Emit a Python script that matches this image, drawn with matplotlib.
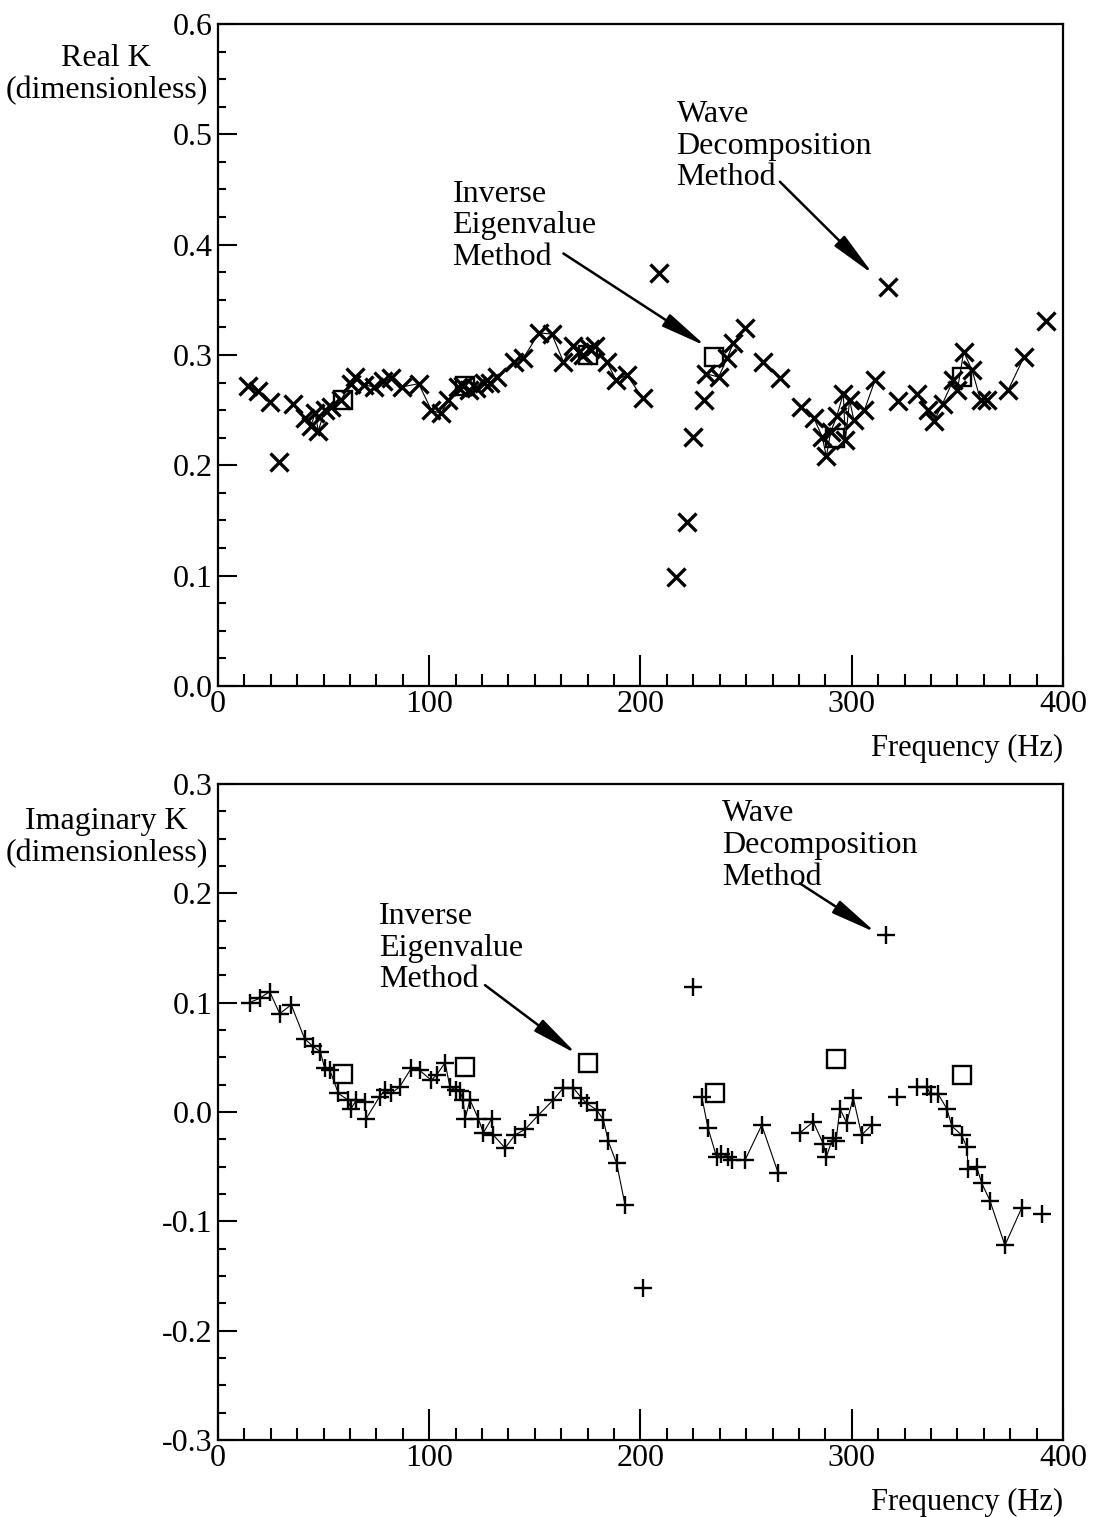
#!/usr/bin/env python3
"""Real and imaginary K versus frequency: wave decomposition vs inverse eigenvalue."""

import numpy as np
import matplotlib

matplotlib.use("Agg")
import matplotlib.pyplot as plt
from matplotlib.ticker import MultipleLocator

plt.rcParams["font.family"] = ["Liberation Serif", "DejaVu Serif"]
plt.rcParams["axes.unicode_minus"] = False

# --- Real K, wave decomposition (traced points) ---
real_wd_freq = [14, 19, 24.5, 35.5, 41, 44, 46, 47.5, 50.5, 53.5, 58, 63, 65, 69, 74,
                78, 82, 87, 95, 101, 105.5, 109, 113.5, 116, 119, 122, 126, 129, 132,
                140, 144.5, 152, 158, 163.5, 168, 171, 173, 176, 178.5, 184, 188.5,
                193.5, 201,
                231, 237, 241, 244, 249.5, 258, 266, 276, 282, 286, 288, 290, 293,
                296, 297, 299, 301, 306, 311, 322, 331, 336, 339, 343, 348, 350, 353,
                357, 361, 364, 374, 381.5, 392]
real_wd_k = [0.272, 0.267, 0.257, 0.256, 0.243, 0.236, 0.247, 0.231, 0.250, 0.253,
             0.259, 0.274, 0.280, 0.273, 0.271, 0.276, 0.279, 0.271, 0.274, 0.250,
             0.247, 0.259, 0.271, 0.272, 0.268, 0.270, 0.275, 0.275, 0.280, 0.294,
             0.297, 0.320, 0.319, 0.294, 0.308, 0.303, 0.300, 0.305, 0.308, 0.294,
             0.277, 0.282, 0.261,
             0.283, 0.280, 0.297, 0.311, 0.324, 0.294, 0.279, 0.253, 0.243, 0.226,
             0.208, 0.230, 0.245, 0.265, 0.223, 0.259, 0.241, 0.250, 0.277, 0.258,
             0.265, 0.250, 0.240, 0.256, 0.277, 0.268, 0.303, 0.286, 0.259, 0.259,
             0.268, 0.298, 0.331]
# isolated wave decomposition points (not on the trace)
real_wd_iso_freq = [29, 209, 217, 222, 225, 230, 317]
real_wd_iso_k = [0.203, 0.374, 0.099, 0.149, 0.226, 0.259, 0.362]

# --- Real K, inverse eigenvalue ---
real_ie_freq = [59, 117, 175, 235, 292, 352]
real_ie_k = [0.259, 0.272, 0.300, 0.298, 0.225, 0.280]

# --- Imaginary K, wave decomposition ---
imag_wd_freq = [15, 19.7, 24.5, 29.2, 34.7, 41, 45, 48.5, 50.5, 53, 57, 61.5, 63,
                65.5, 69.5, 70.2, 76.5, 79, 82, 86, 91.5, 95.5, 101, 103.5, 107.5,
                109.8, 112.8, 114.6, 116, 117, 119.3, 123.2, 125.6, 129.6, 130.3,
                135.9, 140.6, 145.3, 151.6, 158.7, 163.5, 168.2, 172, 174.5, 179.2,
                182.4, 184.8, 188.7, 192.7,
                229, 232, 236, 238, 241.6, 243.2, 249.5, 257.4, 265.2, 275.5, 281.8,
                286.5, 288, 291, 292.5, 294.4, 297.6, 300.7, 304.7, 309.4, 321.3,
                330.7, 335.5, 337.3, 341, 345, 347.4, 352, 354.4, 355.2, 359.1,
                361.5, 365.4, 372.5, 380.4, 389.9]
imag_wd_k = [0.100, 0.104, 0.110, 0.090, 0.098, 0.067, 0.060, 0.055, 0.040, 0.038,
             0.017, 0.011, 0.003, 0.011, 0.009, -0.006, 0.014, 0.020, 0.017, 0.023,
             0.040, 0.038, 0.029, 0.034, 0.045, 0.023, 0.020, 0.019, 0.011, -0.006,
             0.011, -0.006, -0.019, -0.006, -0.021, -0.033, -0.021, -0.016, -0.003,
             0.011, 0.022, 0.022, 0.013, 0.008, 0.002, -0.007, -0.027, -0.047,
             -0.085,
             0.014, -0.015, -0.041, -0.038, -0.041, -0.044, -0.044, -0.012, -0.056,
             -0.019, -0.009, -0.029, -0.041, -0.024, -0.027, 0.003, -0.010, 0.013,
             -0.021, -0.012, 0.014, 0.023, 0.023, 0.016, 0.016, 0.003, -0.013,
             -0.021, -0.032, -0.052, -0.050, -0.065, -0.081, -0.122, -0.088, -0.093]
imag_wd_iso_freq = [201, 225, 316]
imag_wd_iso_k = [-0.161, 0.114, 0.162]

# --- Imaginary K, inverse eigenvalue ---
imag_ie_freq = [59, 117, 175.3, 235.3, 292.5, 352]
imag_ie_k = [0.035, 0.041, 0.045, 0.017, 0.048, 0.034]

FS_TICK = 23
FS_TEXT = 23
FS_XLABEL = 22
LS = 1.12
ARROW = dict(arrowstyle="-|>,head_length=1.4,head_width=0.22", color="black",
             lw=1.8, mutation_scale=20, shrinkA=0, shrinkB=0)


def trace_segments(freq, vals, max_gap=8):
    freq = np.asarray(freq, dtype=float)
    vals = np.asarray(vals, dtype=float)
    cuts = np.where(np.diff(freq) > max_gap)[0] + 1
    return zip(np.split(freq, cuts), np.split(vals, cuts))


def style_axes(ax, ylim):
    ax.set_xlim(0, 400)
    ax.set_ylim(*ylim)
    ax.xaxis.set_major_locator(MultipleLocator(100))
    ax.xaxis.set_minor_locator(MultipleLocator(12.5))
    ax.yaxis.set_major_locator(MultipleLocator(0.1))
    ax.yaxis.set_minor_locator(MultipleLocator(0.025))
    ax.yaxis.set_major_formatter(plt.FuncFormatter(lambda v, p: f"{v:.1f}"))
    ax.tick_params(which="both", direction="in", top=False, right=False,
                   labelsize=FS_TICK, width=1.5)
    ax.tick_params(axis="x", which="major", length=22, pad=3)
    ax.tick_params(axis="x", which="minor", length=9)
    ax.tick_params(axis="y", which="major", length=14, pad=4)
    ax.tick_params(axis="y", which="minor", length=6)
    for spine in ax.spines.values():
        spine.set_linewidth(1.6)
    ax.text(1.0, -0.073, "Frequency (Hz)", transform=ax.transAxes, ha="right",
            va="top", fontsize=FS_XLABEL)


def draw(ax, wd_f, wd_k, iso_f, iso_k, ie_f, ie_k, marker, ms, mew):
    for f, k in trace_segments(wd_f, wd_k):
        ax.plot(f, k, color="black", lw=0.8)
    ax.plot(wd_f, wd_k, ls="none", marker=marker, ms=ms, mew=mew, color="black")
    ax.plot(iso_f, iso_k, ls="none", marker=marker, ms=ms, mew=mew, color="black")
    ax.plot(ie_f, ie_k, ls="none", marker="s", ms=13, mew=1.7, mfc="none",
            mec="black")


fig = plt.figure(figsize=(11.02, 15.17), dpi=100)
ax1 = fig.add_axes([0.1978, 0.5478, 0.7668, 0.4364])
ax2 = fig.add_axes([0.1978, 0.0508, 0.7668, 0.4324])

# top: real part
draw(ax1, real_wd_freq, real_wd_k, real_wd_iso_freq, real_wd_iso_k,
     real_ie_freq, real_ie_k, "x", 12.5, 2.4)
style_axes(ax1, (0.0, 0.6))
ax1.text(-0.132, 0.97, "Real K\n(dimensionless)", transform=ax1.transAxes,
         ha="center", va="top", fontsize=FS_TEXT, linespacing=LS)
ax1.text(217, 0.531, "Wave\nDecomposition\nMethod", ha="left", va="top",
         fontsize=FS_TEXT, linespacing=LS)
ax1.text(111, 0.459, "Inverse\nEigenvalue\nMethod", ha="left", va="top",
         fontsize=FS_TEXT, linespacing=LS)
ax1.annotate("", xy=(310.2, 0.373), xytext=(266, 0.457), arrowprops=ARROW)
ax1.annotate("", xy=(231, 0.308), xytext=(163.5, 0.392), arrowprops=ARROW)

# bottom: imaginary part
draw(ax2, imag_wd_freq, imag_wd_k, imag_wd_iso_freq, imag_wd_iso_k,
     imag_ie_freq, imag_ie_k, "+", 13, 1.7)
style_axes(ax2, (-0.3, 0.3))
ax2.text(-0.132, 0.965, "Imaginary K\n(dimensionless)", transform=ax2.transAxes,
         ha="center", va="top", fontsize=FS_TEXT, linespacing=LS)
ax2.text(238.6, 0.286, "Wave\nDecomposition\nMethod", ha="left", va="top",
         fontsize=FS_TEXT, linespacing=LS)
ax2.text(76.2, 0.192, "Inverse\nEigenvalue\nMethod", ha="left", va="top",
         fontsize=FS_TEXT, linespacing=LS)
ax2.annotate("", xy=(311.5, 0.164), xytext=(275.5, 0.209), arrowprops=ARROW)
ax2.annotate("", xy=(169.8, 0.053), xytext=(126.4, 0.116), arrowprops=ARROW)

fig.savefig("out.png", dpi=100)
